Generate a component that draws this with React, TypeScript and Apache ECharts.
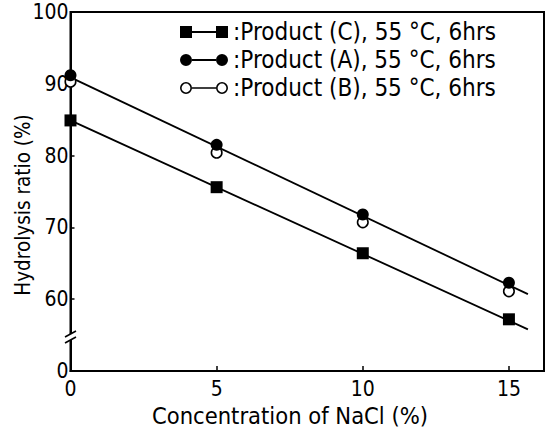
import React, { useEffect, useRef } from "react";
import * as echarts from "echarts";

const concentration = [0, 5, 10, 15];
const productC = [84.9, 75.6, 66.4, 57.2];
const productA = [91.2, 81.5, 71.8, 62.3];
const productB = [90.3, 80.4, 70.7, 61.1];
const fitX = [0, 15.65];
const fitUpper = [90.9, 60.7];
const fitLower = [84.9, 55.8];
const seriesNames = [
  "Product (C), 55 °C, 6hrs",
  "Product (A), 55 °C, 6hrs",
  "Product (B), 55 °C, 6hrs",
];
const yTickLabels: Record<number, string> = { 50: "0", 60: "60", 70: "70", 80: "80", 90: "90", 100: "100" };
const xTickLabels: Record<number, string> = { 0: "0", 5: "5", 10: "10", 15: "15" };

const FONT = '"DejaVu Sans Condensed", "Liberation Sans Narrow", "DejaVu Sans", sans-serif';

const pair = (xs: number[], ys: number[]) => xs.map((x, i) => [x, ys[i]]);

const iconSquares = "path://M0,0H12V12H0Z M12,5H36V7H12Z M36,0H48V12H36Z";
const iconDots =
  "path://M0,6A6,6,0,1,1,12,6A6,6,0,1,1,0,6Z M12,5H36V7H12Z M36,6A6,6,0,1,1,48,6A6,6,0,1,1,36,6Z";
const iconRings =
  "path://M0,6A6,6,0,1,1,12,6A6,6,0,1,1,0,6Z M1.6,6A4.4,4.4,0,1,0,10.4,6A4.4,4.4,0,1,0,1.6,6Z M12,5.2H36V6.8H12Z M36,6A6,6,0,1,1,48,6A6,6,0,1,1,36,6Z M37.6,6A4.4,4.4,0,1,0,46.4,6A4.4,4.4,0,1,0,37.6,6Z";

export default function App() {
  const ref = useRef<HTMLDivElement>(null);
  useEffect(() => {
    if (!ref.current) return;
    const chart = echarts.init(ref.current, undefined, { renderer: "svg" });
    chart.setOption({
      animation: false,
      backgroundColor: "#fff",
      textStyle: { fontFamily: FONT, color: "#000" },
      grid: {
        left: 70.5,
        top: 12,
        right: 3,
        bottom: 59,
        show: true,
        borderColor: "#000",
        borderWidth: 2,
        containLabel: false,
      },
      legend: {
        orient: "vertical",
        left: 175,
        top: 15,
        itemWidth: 48,
        itemHeight: 12,
        itemGap: 4,
        selectedMode: false,
        formatter: (n: string) => ":" + n,
        textStyle: { fontFamily: FONT, fontSize: 24, color: "#000" },
        data: [
          { name: seriesNames[0], icon: iconSquares, itemStyle: { color: "#000", borderWidth: 0, opacity: 1 } },
          { name: seriesNames[1], icon: iconDots, itemStyle: { color: "#000", borderWidth: 0, opacity: 1 } },
          { name: seriesNames[2], icon: iconRings, itemStyle: { color: "#000", borderWidth: 0, opacity: 1 } },
        ],
      },
      xAxis: {
        type: "value",
        min: 0,
        max: 16.2,
        interval: 5,
        splitLine: { show: false },
        axisLine: { show: true, onZero: false, lineStyle: { color: "#000", width: 2 } },
        axisTick: { show: true, inside: true, length: 5, lineStyle: { color: "#000", width: 1.5 } },
        axisLabel: {
          color: "#000",
          fontFamily: FONT,
          fontSize: 21,
          margin: 7,
          showMaxLabel: false,
          formatter: (v: number) => xTickLabels[v] ?? "",
        },
      },
      yAxis: {
        type: "value",
        min: 50,
        max: 100,
        interval: 10,
        splitLine: { show: false },
        axisLine: { show: true, onZero: false, lineStyle: { color: "#000", width: 2 } },
        axisTick: { show: true, inside: true, length: 4, lineStyle: { color: "#000", width: 1.5 } },
        axisLabel: {
          color: "#000",
          fontFamily: FONT,
          fontSize: 21,
          margin: 2,
          formatter: (v: number) => yTickLabels[v] ?? "",
        },
      },
      graphic: [
        {
          type: "rect",
          shape: { x: 64, y: 334, width: 12, height: 6 },
          style: { fill: "#fff" },
          z: 100,
        },
        {
          type: "line",
          shape: { x1: 65, y1: 337, x2: 76, y2: 331 },
          style: { stroke: "#000", lineWidth: 1.6 },
          z: 101,
        },
        {
          type: "line",
          shape: { x1: 65, y1: 343, x2: 76, y2: 337 },
          style: { stroke: "#000", lineWidth: 1.6 },
          z: 101,
        },
        {
          type: "text",
          x: 290,
          y: 416,
          style: {
            text: "Concentration of NaCl (%)",
            fontFamily: FONT,
            fontSize: 23.5,
            fill: "#000",
            align: "center",
            verticalAlign: "middle",
          },
        },
        {
          type: "text",
          x: 23,
          y: 205,
          rotation: Math.PI / 2,
          style: {
            text: "Hydrolysis ratio (%)",
            fontFamily: FONT,
            fontSize: 20.5,
            fill: "#000",
            align: "center",
            verticalAlign: "middle",
          },
        },
      ],
      series: [
        {
          name: seriesNames[0],
          type: "scatter",
          symbol: "rect",
          symbolSize: 12,
          itemStyle: { color: "#000", opacity: 1 },
          data: pair(concentration, productC),
          z: 3,
        },
        {
          name: seriesNames[1],
          type: "scatter",
          symbol: "circle",
          symbolSize: 12,
          itemStyle: { color: "#000", opacity: 1 },
          data: pair(concentration, productA),
          z: 4,
        },
        {
          name: seriesNames[2],
          type: "scatter",
          symbol: "circle",
          symbolSize: 10.5,
          itemStyle: { color: "#fff", borderColor: "#000", borderWidth: 1.6, opacity: 1 },
          data: pair(concentration, productB),
          z: 3,
        },
        {
          name: "fit upper",
          type: "line",
          showSymbol: false,
          silent: true,
          lineStyle: { color: "#000", width: 1.8 },
          data: pair(fitX, fitUpper),
          z: 2,
        },
        {
          name: "fit lower",
          type: "line",
          showSymbol: false,
          silent: true,
          lineStyle: { color: "#000", width: 1.8 },
          data: pair(fitX, fitLower),
          z: 2,
        },
      ],
    });
    return () => chart.dispose();
  }, []);
  return (
    <div
      ref={ref}
      style={{ position: "fixed", left: 0, top: 0, width: 547, height: 430, background: "#fff" }}
    />
  );
}
